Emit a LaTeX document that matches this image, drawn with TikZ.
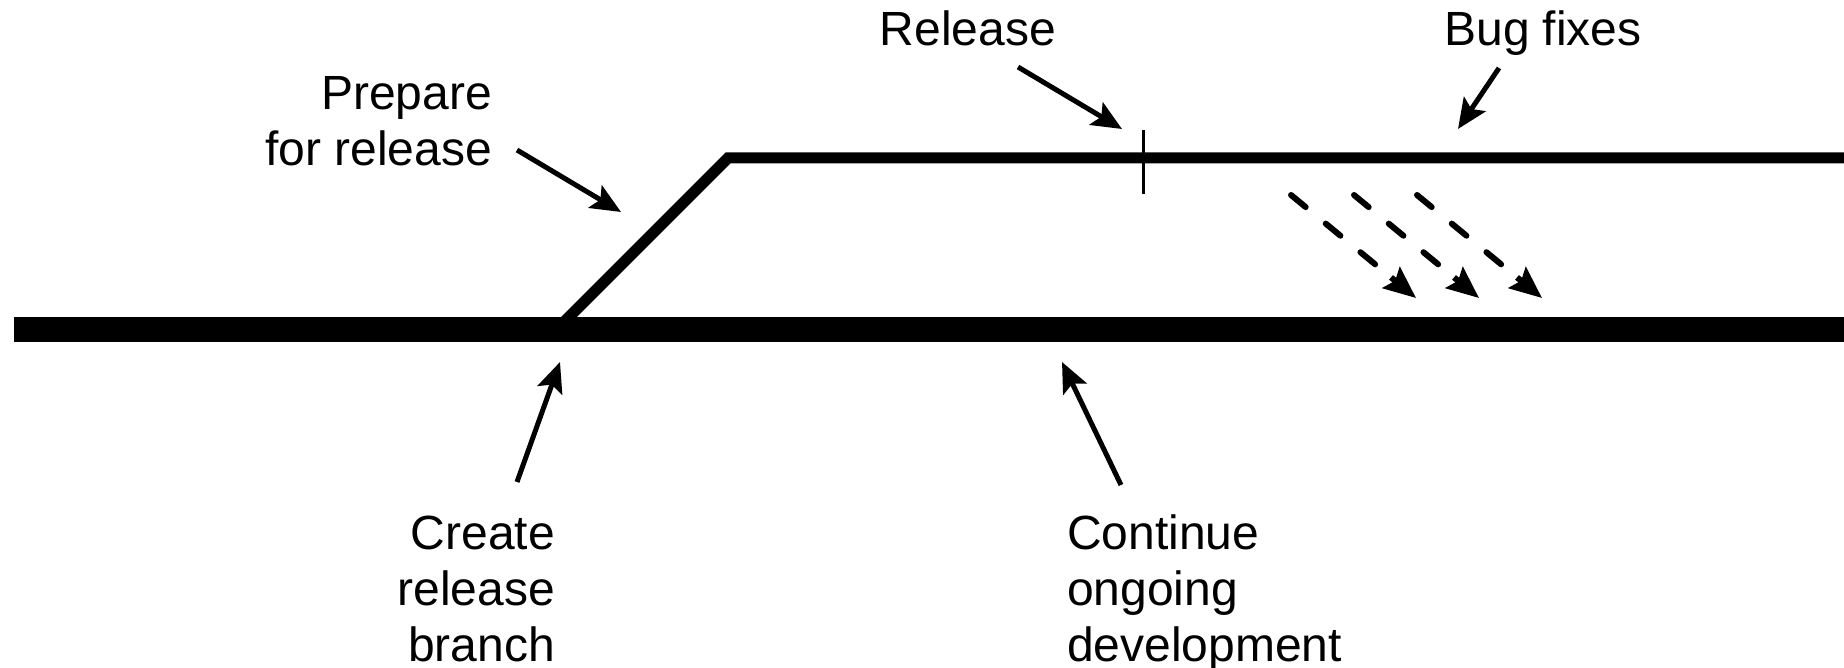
\documentclass[tikz,border=0pt]{standalone}
\usepackage{fontspec}
\setmainfont{Liberation Sans}
\usetikzlibrary{arrows.meta,calc}
\begin{document}
\begin{tikzpicture}[x=1pt,y=-1pt,
  lbl/.style={inner sep=0pt, font=\fontsize{48}{56}\selectfont},
  ptr/.style={line width=5pt, -{Stealth[length=30pt,width=26pt,inset=6pt]}},
  fixline/.style={line width=6pt, dash pattern=on 19pt off 26pt on 19pt off 26pt on 19pt off 200pt, line cap=round},
  fixhead/.style={line width=6pt, -{Stealth[length=32pt,width=27pt,inset=5pt]}},
  trunk/.style={line width=25pt},
  branchline/.style={line width=11pt, line join=miter},
  tick/.style={line width=3pt}]
\useasboundingbox (0,0) rectangle (1844,668);
% coordinates of the lines
\coordinate (m0) at (14,329);
\coordinate (m1) at (1844,329);
\coordinate (b0) at (557,329);
\coordinate (b1) at (728,158);
\coordinate (b2) at (1844,158);
\coordinate (t0) at (1143,130);
\coordinate (t1) at (1143,194);
% lines
\draw[branchline] (b0) -- (b1) -- (b2);
\draw[trunk] (m0) -- (m1);
\draw[tick] (t0) -- (t1);
% labels
\node[lbl, anchor=base] (rel) at (968,46) {Release};
\node[lbl, anchor=base] (bug) at (1543,46) {Bug fixes};
\node[lbl, anchor=base east, align=right] (prep) at (492,166) {Prepare\\for release};
\node[lbl, anchor=base east, align=right] (create) at (555,661) {Create\\release\\branch};
\node[lbl, anchor=base west, align=left] (cont) at (1067,661) {Continue\\ongoing\\development};
% arrow ends
\coordinate (prepS) at (517,150);
\coordinate (prepE) at (621,212);
\coordinate (relS) at (1018,67);
\coordinate (relE) at (1122,129);
\coordinate (bugS) at (1499,68);
\coordinate (bugE) at (1458,129);
\coordinate (creS) at (517,482);
\coordinate (creE) at (560,362);
\coordinate (conS) at (1121,485);
\coordinate (conE) at (1062,362);
\draw[ptr] (prepS) -- (prepE);
\draw[ptr] (relS) -- (relE);
\draw[ptr] (bugS) -- (bugE);
\draw[ptr] (creS) -- (creE);
\draw[ptr] (conS) -- (conE);
% bug fix merges
\coordinate (f1s) at (1291,195); \coordinate (f1e) at (1416,298);
\coordinate (f2s) at (1354,195); \coordinate (f2e) at (1479,298);
\coordinate (f3s) at (1417,195); \coordinate (f3e) at (1542,298);
\coordinate (f1m) at ($(f1s)!0.8!(f1e)$);
\coordinate (f2m) at ($(f2s)!0.8!(f2e)$);
\coordinate (f3m) at ($(f3s)!0.8!(f3e)$);
\draw[fixline] (f1s) -- (f1m);
\draw[fixline] (f2s) -- (f2m);
\draw[fixline] (f3s) -- (f3m);
\draw[fixhead] (f1m) -- (f1e);
\draw[fixhead] (f2m) -- (f2e);
\draw[fixhead] (f3m) -- (f3e);
\end{tikzpicture}
\end{document}
